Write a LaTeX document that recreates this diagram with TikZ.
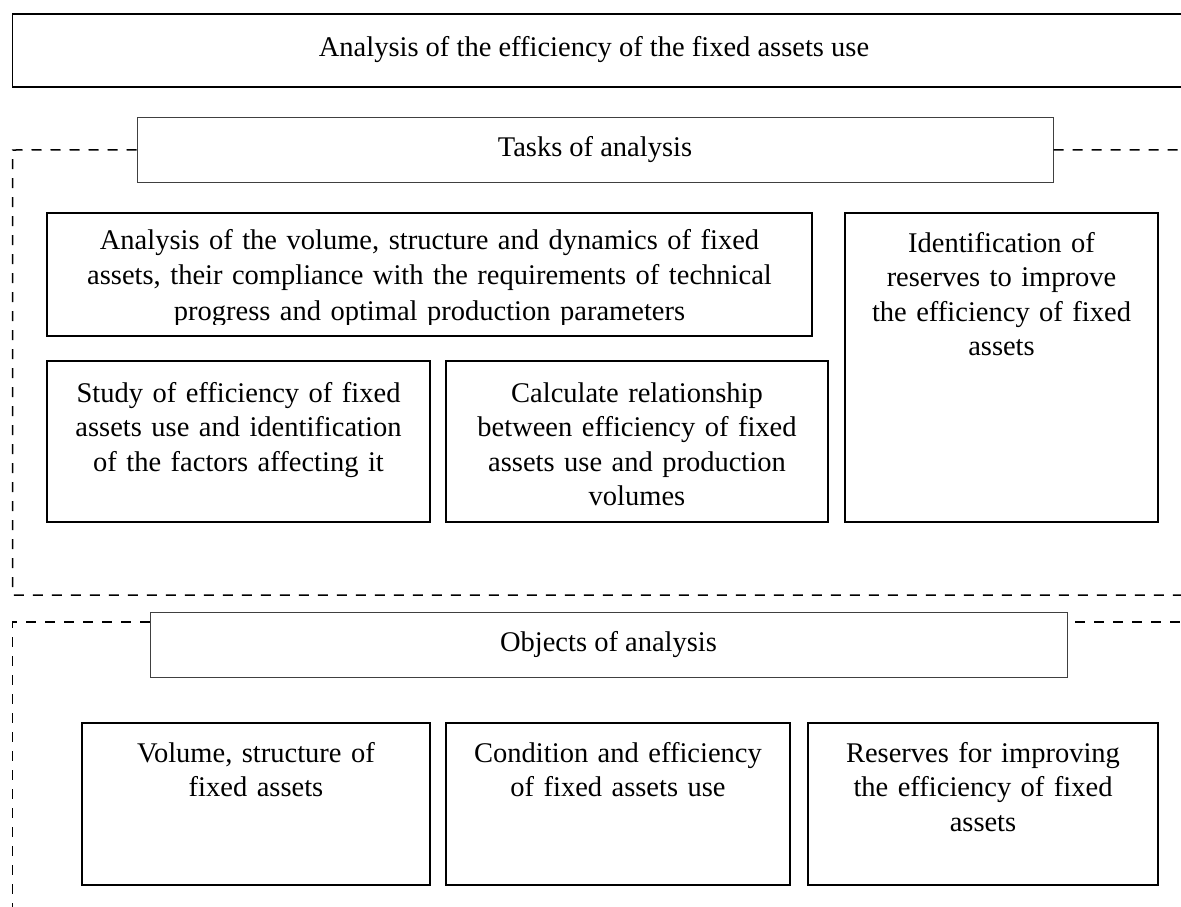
\documentclass[tikz,border=0pt]{standalone}
\usepackage{fontspec}
\setmainfont{Liberation Serif}
\usetikzlibrary{positioning}

\tikzset{
  frame/.style={draw, line width=1.3pt, inner sep=0pt},
  headframe/.style={draw=black!75, line width=1pt, inner sep=0pt},
  boxtext/.style={text width=#1, align=center, inner sep=0pt, anchor=base},
  boxtext/.default=360pt,
  groupline/.style={line width=1.5pt, dash pattern=on 10pt off 9pt}
}

\begin{document}
\begin{tikzpicture}[x=1pt, y=-1pt, font=\fontsize{28.5}{34.5}\selectfont]
  \useasboundingbox (0,0) rectangle (1181,906);

  \draw[line width=1.6pt] (12.5,14) rectangle (1200,87);
  \node[inner sep=0pt] (title) at (594,50) {Analysis of the efficiency of the fixed assets use};

  % tasks
  \node[headframe, minimum width=916pt, minimum height=64.5pt] (tasks) at (595,149.75) {Tasks of analysis};
  \draw[groupline] (tasks.west) -- (12.7,150) -- (12.7,595) -- (1200,595);
  \draw[groupline] (tasks.east) -- (1200,150);

  \node[frame, minimum width=765pt, minimum height=123pt] (volbox) at (429.5,274.5) {};
  \begin{scope}
    \clip (47,213) rectangle (812,324);
    \node[boxtext=760pt, font=\fontsize{28.5}{35.5}\selectfont] (voltext) at (429.5,249) {Analysis of the volume, structure and dynamics of fixed\\assets, their compliance with the requirements of technical\\progress and optimal production parameters};
  \end{scope}
  \node[frame, minimum width=383pt, minimum height=161pt] (studybox) at (238.5,441.5) {};
  \node[boxtext] (studytext) at (238.5,402) {Study of efficiency of fixed\\assets use and identification\\of the factors affecting it};
  \node[frame, minimum width=382pt, minimum height=161pt] (calcbox) at (637,441.5) {};
  \node[boxtext] (calctext) at (637,402) {Calculate relationship\\between efficiency of fixed\\assets use and production\\volumes};
  \node[frame, minimum width=313pt, minimum height=309pt] (identbox) at (1001.5,367.5) {};
  \node[boxtext=300pt] (identtext) at (1001.5,252) {Identification of\\reserves to improve\\the efficiency of fixed\\assets};

  % objects
  \node[headframe, minimum width=917pt, minimum height=65pt] (objects) at (608.5,644.5) {Objects of analysis};
  \draw[groupline] (objects.west |- 0,622) -- (12.7,622) -- (12.7,910);
  \draw[groupline] (1075,622) -- (1200,622);

  \node[frame, minimum width=348pt, minimum height=162pt] (sizebox) at (256,804) {};
  \node[boxtext=340pt] (sizetext) at (256,762) {Volume, structure of\\fixed assets};
  \node[frame, minimum width=344pt, minimum height=162pt] (condbox) at (618,804) {};
  \node[boxtext=340pt] (condtext) at (618,762) {Condition and efficiency\\of fixed assets use};
  \node[frame, minimum width=350pt, minimum height=162pt] (resbox) at (983,804) {};
  \node[boxtext=340pt] (restext) at (983,762) {Reserves for improving\\the efficiency of fixed\\assets};
\end{tikzpicture}
\end{document}
